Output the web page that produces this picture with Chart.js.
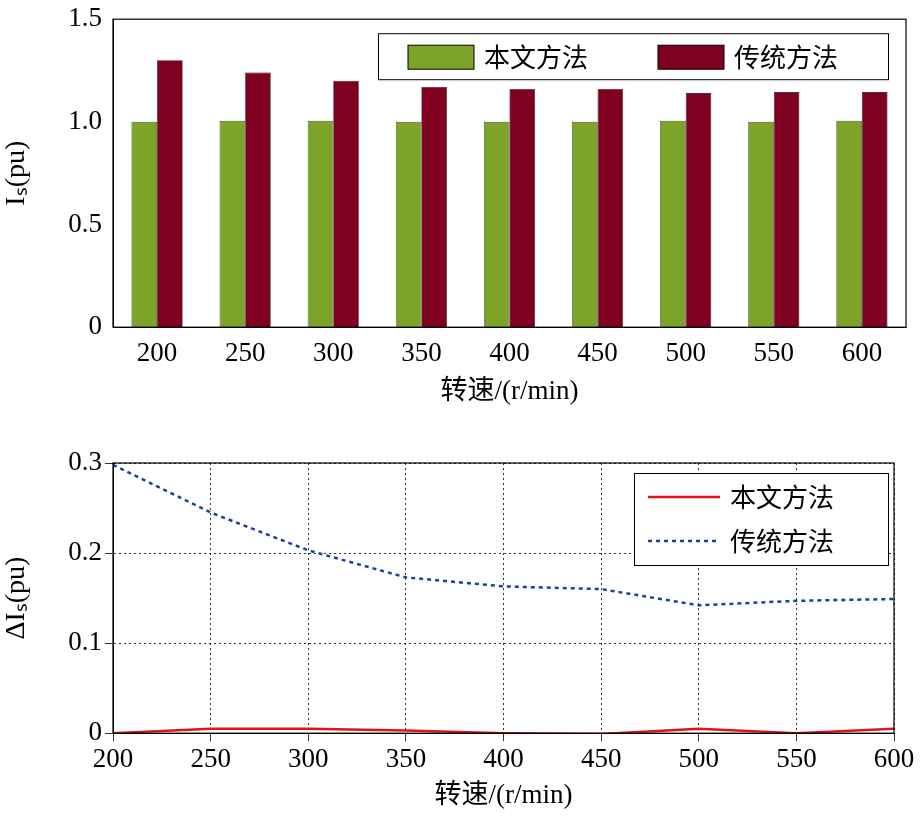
<!DOCTYPE html>
<html><head><meta charset="utf-8">
<script src="https://cdn.jsdelivr.net/npm/chart.js@4"></script>
<style>
body{margin:0;background:#fff;width:920px;height:816px;position:relative;overflow:hidden}
#wrapTop{position:absolute;left:0;top:0;width:920px;height:412px}
#wrapBot{position:absolute;left:0;top:410px;width:920px;height:406px}
</style></head><body>
<div id="wrapTop"><canvas id="top"></canvas></div>
<div id="wrapBot"><canvas id="bot"></canvas></div>
<script>
//Top: stator current per speed, bar pair. Bottom: current deviation, lines.
const SPEEDS      = ['200','250','300','350','400','450','500','550','600'];
const OURS_IS     = [1.0, 1.005, 1.005, 1.0, 1.0, 1.0, 1.005, 1.0, 1.005];
const TRAD_IS     = [1.30, 1.24, 1.20, 1.17, 1.16, 1.16, 1.14, 1.145, 1.145];
const SPEED_X     = [200, 250, 300, 350, 400, 450, 500, 550, 600];
const OURS_DELTA  = [0, 0.005, 0.005, 0.003, 0, -0.001, 0.005, 0, 0.005];
const TRAD_DELTA  = [0.298, 0.245, 0.203, 0.173, 0.163, 0.160, 0.142, 0.147, 0.149];
const FONT = '"Liberation Serif", "Noto Sans CJK SC", serif';
const LEG_FONT = '26px "Noto Sans CJK SC", serif';

const frame = {
    id: 'frame',
    afterDraw(chart)
    {
        const a = chart.chartArea;
        const c = chart.ctx;
        c.save();
        c.strokeStyle = '#000';
        c.lineWidth = 1.2;
        c.strokeRect(a.left, a.top, a.right - a.left, a.bottom - a.top);
        c.restore();
    },
};

//Hand drawn legends: Chart.js puts chartArea legends on the side.
const barLegend = {
    id: 'bar-legend',
    afterDraw(chart)
    {
        const a = chart.chartArea;
        const c = chart.ctx;
        const x0 = a.right - 18 - 510, y0 = a.top + 14;
        c.save();
        c.fillStyle = '#fff';
        c.fillRect(x0, y0, 510, 46);
        c.strokeStyle = '#000'; c.lineWidth = 1;
        c.strokeRect(x0 + 0.5, y0 + 0.5, 510, 46);
        c.font = LEG_FONT; c.textBaseline = 'middle';
        chart.data.datasets.forEach((ds, i) =>
        {
            const bx = x0 + 30 + i * 250;
            c.fillStyle = ds.backgroundColor;
            c.fillRect(bx, y0 + 12, 66, 24);
            c.strokeRect(bx, y0 + 12, 66, 24);
            c.fillStyle = '#000';
            c.fillText(ds.label, bx + 76, y0 + 24);
        });
        c.restore();
    },
};
const lineLegend = {
    id: 'line-legend',
    afterDraw(chart)
    {
        const a = chart.chartArea;
        const c = chart.ctx;
        const w = 254, h = 92;
        const x0 = a.right - 6 - w, y0 = a.top + 10;
        c.save();
        c.fillStyle = '#fff';
        c.fillRect(x0, y0, w, h);
        c.strokeStyle = '#000'; c.lineWidth = 1;
        c.strokeRect(x0 + 0.5, y0 + 0.5, w, h);
        c.font = LEG_FONT; c.textBaseline = 'middle';
        chart.data.datasets.forEach((ds, i) =>
        {
            const yy = y0 + 24 + i * 44;
            c.strokeStyle = ds.borderColor; c.lineWidth = 2.5;
            c.setLineDash(ds.borderDash || []);
            c.beginPath(); c.moveTo(x0 + 14, yy); c.lineTo(x0 + 86, yy); c.stroke();
            c.setLineDash([]);
            c.fillStyle = '#000';
            c.fillText(ds.label, x0 + 96, yy);
        });
        c.restore();
    },
};
Chart.defaults.animation = false;
Chart.defaults.color = '#000';

new Chart(document.getElementById('top'), {
    type: 'bar',
    data: {
        labels: SPEEDS,
        datasets: [
            { label: '本文方法', data: OURS_IS, backgroundColor: '#7ba428', borderColor: '#000', borderWidth: 0.6 },
            { label: '传统方法', data: TRAD_IS, backgroundColor: '#800020', borderColor: '#000', borderWidth: 0.6 },
        ],
    },
    options: {
        responsive: true, maintainAspectRatio: false,
        layout: { padding: { top: 8, right: 14, left: 0 } },
        categoryPercentage: 0.58, barPercentage: 1.0,
        plugins: { legend: { display: false }, tooltip: { enabled: false } },
        scales: {
            x: {
                grid: { display: false },
                border: { color: '#000' },
                ticks: { font: { family: FONT, size: 27 } },
                title: { display: true, text: '转速/(r/min)', font: { family: FONT, size: 27 }, padding: { top: 2 } },
            },
            y: {
                min: 0, max: 1.5,
                grid: { display: false },
                border: { color: '#000' },
                afterFit: (s) => { s.width = 113; },
                ticks: { stepSize: 0.5, font: { family: FONT, size: 27 }, callback: (v) => v === 0 ? '0' : v.toFixed(1) },
                title: { display: true, text: 'Iₛ(pu)', font: { family: FONT, size: 28 }, padding: 0 },
            },
        },
    },
    plugins: [frame, barLegend],
});

new Chart(document.getElementById('bot'), {
    type: 'line',
    data: {
        datasets: [
            { label: '本文方法', data: SPEED_X.map((x, i) => ({ x, y: OURS_DELTA[i] })), borderColor: '#e0141e', borderWidth: 2.5, pointRadius: 0, tension: 0 },
            { label: '传统方法', data: SPEED_X.map((x, i) => ({ x, y: TRAD_DELTA[i] })), borderColor: '#1f3f9a', borderWidth: 2.5, borderDash: [4, 4], pointRadius: 0, tension: 0 },
        ],
    },
    options: {
        responsive: true, maintainAspectRatio: false,
        layout: { padding: { top: 53, right: 26 } },
        plugins: { legend: { display: false }, tooltip: { enabled: false } },
        scales: {
            x: {
                type: 'linear', min: 200, max: 600,
                grid: { color: '#000', lineWidth: 0.8 },
                border: { color: '#000', dash: [2, 3] },
                ticks: { stepSize: 50, font: { family: FONT, size: 27 } },
                title: { display: true, text: '转速/(r/min)', font: { family: FONT, size: 27 }, padding: { top: 0 } },
            },
            y: {
                min: 0, max: 0.3,
                grid: { color: '#000', lineWidth: 0.8 },
                border: { color: '#000', dash: [2, 3] },
                afterFit: (s) => { s.width = 113; },
                ticks: { stepSize: 0.1, font: { family: FONT, size: 27 }, callback: (v) => v === 0 ? '0' : v.toFixed(1) },
                title: { display: true, text: 'ΔIₛ(pu)', font: { family: FONT, size: 28 }, padding: 0 },
            },
        },
    },
    plugins: [frame, lineLegend],
});
</script>
</body></html>
